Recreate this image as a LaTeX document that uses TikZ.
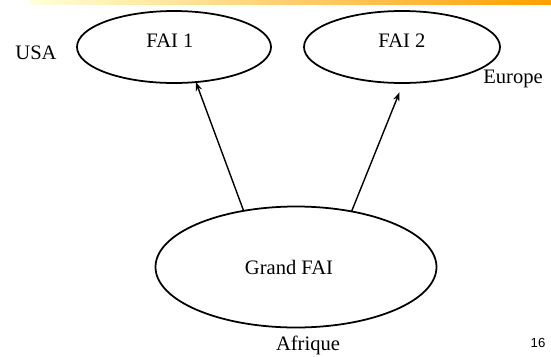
\documentclass[tikz,border=0pt]{standalone}
\usepackage{fontspec}
\setmainfont{Liberation Serif}
\newfontfamily\pagenumfont{Liberation Sans}
\usetikzlibrary{shapes.geometric,arrows.meta}

\begin{document}
\begin{tikzpicture}
        [isp/.style={ellipse, draw, line width=1pt, inner sep=0pt, outer sep=0pt},
        place/.style={font=\fontsize{11.7pt}{14pt}\selectfont},
        link/.style={line width=0.8pt, black, -{Stealth[length=5pt,width=3.6pt]}}]

        \useasboundingbox (0,0) rectangle (11.02,-7.12);

        % brush stroke along the top edge
        \shade[left color=yellow!15, middle color=yellow!55, right color=orange!75!yellow]
            (0.6,0) rectangle (11.02,-0.08);

        \node[isp, minimum width=3.88cm, minimum height=1.44cm,
            label={[place, xshift=-0.08cm, yshift=0.12cm]center:FAI 1}] (fai1) at (3.48,-0.94) {};
        \node[isp, minimum width=3.92cm, minimum height=1.44cm,
            label={[place, yshift=0.12cm]center:FAI 2}] (fai2) at (8.04,-0.94) {};
        \node[isp, minimum width=5.62cm, minimum height=2.42cm,
            label={[place, xshift=-0.14cm]center:Grand FAI}] (grand) at (5.92,-5.34) {};

        % regions
        \node[place] (usa) at (0.72,-1.06) {USA};
        \node[place] (europe) at (10.26,-1.58) {Europe};
        \node[place] (afrique) at (6.16,-6.9) {Afrique};
        \node[font=\pagenumfont\fontsize{7.5pt}{9pt}\selectfont] (page) at (10.76,-6.86) {16};

        % links from the big provider
        \draw[link] (grand.133) -- (fai1.-58);
        \draw[link, shorten >=0.2cm] (grand.45) -- (fai2.-88);

    \end{tikzpicture}
\end{document}
